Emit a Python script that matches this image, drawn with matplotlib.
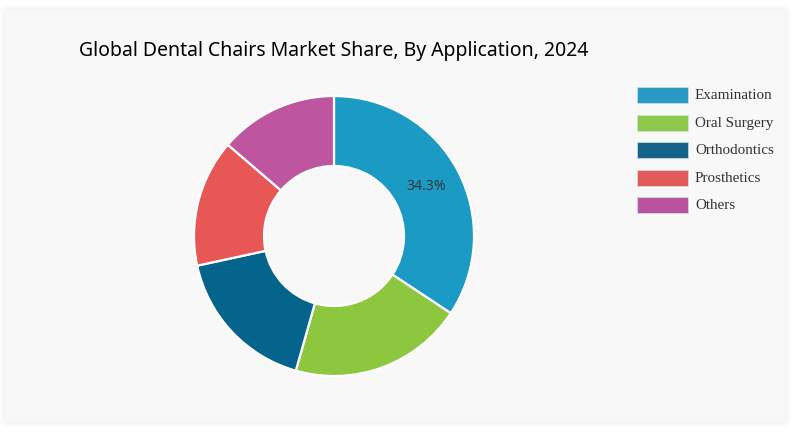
"""Donut chart: dental chairs market share by application."""
import matplotlib
matplotlib.use("Agg")
import matplotlib.pyplot as plt
from matplotlib.patches import FancyBboxPatch, Rectangle

W, H = 799, 434

categories = ["Examination", "Oral Surgery", "Orthodontics", "Prosthetics", "Others"]
shares = [34.3, 20.1, 17.2, 14.7, 13.7]
colors = ["#1b9ac4", "#8dc63f", "#05648c", "#e75755", "#bd559f"]
legend_colors = ["#2a98c4", "#8fc74a", "#15628a", "#e35a5a", "#b9539d"]
title = "Global Dental Chairs Market Share, By Application, 2024"

fig = plt.figure(figsize=(W / 100, H / 100), dpi=100, facecolor="white")
ax = fig.add_axes([0, 0, 1, 1])


def py(y):
    # picture coordinates run downwards
    return H - y


wedges, _, autotexts = ax.pie(
    shares, colors=colors, startangle=90, counterclock=False,
    center=(334, py(236)), radius=140, frame=True,
    wedgeprops=dict(width=70, edgecolor="white", linewidth=1.6),
    autopct=lambda p: f"{p:.1f}%" if p > 30 else "", pctdistance=0.75,
    textprops=dict(family="Open Sans", fontsize=10.2, color="#333333"),
)
ax.set_xlim(0, W)
ax.set_ylim(0, H)
ax.set_aspect("equal")
ax.axis("off")
for w in wedges:
    w.set_zorder(3)
for t in autotexts:
    t.set_zorder(4)

# card with a soft shadow
for grow in [6, 5, 4, 3, 2, 1]:
    ax.add_patch(FancyBboxPatch((6 - grow, py(422) - grow), 779 + 2 * grow, 412 + 2 * grow,
                                boxstyle="round,pad=0,rounding_size=7",
                                fc="black", ec="none", alpha=0.008, zorder=1))
ax.add_patch(FancyBboxPatch((6, py(422)), 779, 412,
                            boxstyle="round,pad=0,rounding_size=5",
                            fc="#f8f8f8", ec="none", zorder=2))

ax.text(79, py(51), title, family="Noto Sans", fontsize=14, color="black",
        va="center", ha="left", zorder=4)

for i, (cat, col) in enumerate(zip(categories, legend_colors)):
    y = 95 + i * 27.6
    ax.add_patch(Rectangle((637, py(y + 8)), 51, 16, fc=col, ec="#cfe3ea", lw=0.5, zorder=3))
    ax.text(695, py(y + 0.5), cat, family="Liberation Serif", fontsize=10.9, color="#333333",
            va="center", ha="left", zorder=4)

fig.savefig("out.png", dpi=100, facecolor="white")
